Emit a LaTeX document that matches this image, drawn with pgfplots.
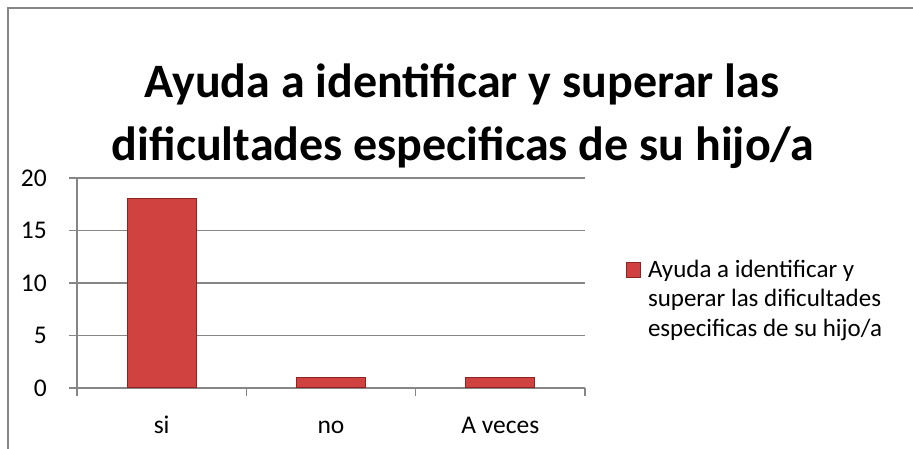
\documentclass[border=0pt]{standalone}
\usepackage{fontspec}
\setmainfont{Carlito}
\usepackage{pgfplots}
\pgfplotsset{compat=1.18}
\definecolor{barred}{RGB}{208,66,64}
\definecolor{bardark}{RGB}{140,36,34}
\definecolor{linegray}{RGB}{134,134,134}
\begin{document}
\begin{tikzpicture}[x=1bp,y=1bp]
\useasboundingbox (0,0) rectangle (913,449);
\draw[linegray, line width=2.2bp] (8,0) -- (8,441) -- (913,441);
\node[anchor=base, font=\fontsize{48bp}{56bp}\selectfont\bfseries] at (462,351) {Ayuda a identificar y superar las};
\node[anchor=base, font=\fontsize{48bp}{56bp}\selectfont\bfseries] at (463,288) {dificultades especificas de su hijo/a};
\begin{axis}[
  at={(77bp,61bp)}, anchor=south west,
  width=508bp, height=210bp, scale only axis,
  xmin=-0.5, xmax=2.5, ymin=0, ymax=20,
  axis x line*=bottom, axis y line*=left,
  axis line style={-, draw=linegray, line width=1.3bp},
  xtick={-0.5,0.5,1.5,2.5}, xticklabels={},
  extra x ticks={0,1,2}, extra x tick labels={si,no,A veces},
  extra x tick style={major tick length=0pt, xmajorgrids=false},
  ytick={0,5,10,15,20},
  ymajorgrids,
  grid style={draw=linegray, line width=1.3bp},
  tick style={draw=linegray, line width=1.3bp},
  major tick length=8bp, tick align=outside,
  ticklabel style={font=\fontsize{25.5bp}{30bp}\selectfont, inner sep=0pt},
  /pgf/number format/assume math mode=true,
  yticklabel style={anchor=east, xshift=0bp},
  yticklabel shift=22bp,
  xticklabel style={text height=18bp, text depth=6bp, yshift=-27bp},
  ybar, bar width=69bp,
  legend style={at={(549bp,109bp)}, anchor=south west, draw=none, fill=none,
    inner sep=0pt, legend cell align=left,
    nodes={inner sep=0pt, anchor=base west}},
  legend image code/.code={\draw[fill=barred, draw=bardark, line width=0.8bp] (0bp,0bp) rectangle (14bp,15bp);},
]
\addplot[fill=barred, draw=bardark, line width=1bp, bar shift=0pt] coordinates {(0,18) (1,1) (2,1)};
\addlegendentry{\hspace{7bp}\fontsize{25bp}{29.5bp}\selectfont\begin{tabular}[t]{@{}l@{}}Ayuda a identificar y\\superar las dificultades\\especificas de su hijo/a\end{tabular}}
\end{axis}
\end{tikzpicture}
\end{document}
